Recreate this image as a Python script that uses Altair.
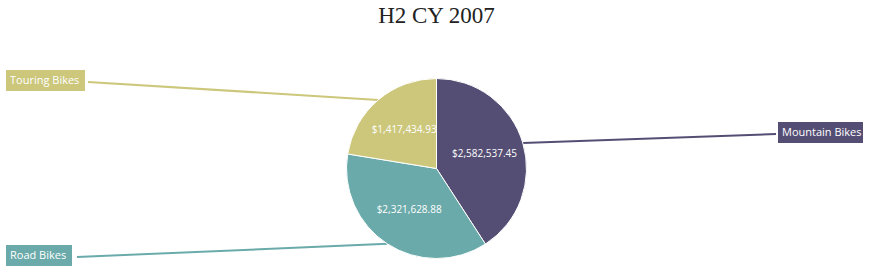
import altair as alt
import pandas as pd

# ---- data ----
categories = ["Mountain Bikes", "Road Bikes", "Touring Bikes"]
sales = [2582537.45, 2321628.88, 1417434.93]
colors = ["#554E74", "#6AAAAA", "#CCC77B"]
title_text = "H2 CY 2007"

# ---- layout (pixels) ----
CX, CY, R = 436.5, 168.5, 90
LABEL_RADIUS = 50
box_x0 = [778, 6, 6]
box_x1 = [863, 72, 85]
box_y0 = [122, 245, 70]
box_y1 = [143, 266, 91]
line_x = [776, 77, 88]
line_y = [134, 257, 82]

df = pd.DataFrame({"category": categories, "sales": sales, "idx": list(range(len(categories)))})
df["bx0"] = box_x0
df["bx1"] = box_x1
df["by0"] = box_y0
df["by1"] = box_y1
df["bym"] = [(a + b) / 2 for a, b in zip(box_y0, box_y1)]
df["lx"] = line_x
df["ly"] = line_y

color = alt.Color("category:N", scale=alt.Scale(domain=categories, range=colors), legend=None)
theta = alt.Theta("sales:Q", stack=True)
order = alt.Order("idx:Q")

base = alt.Chart(df)

lines = (
    base.transform_joinaggregate(total="sum(sales)")
    .transform_window(cum="sum(sales)", sort=[alt.SortField("idx")], frame=[None, 0])
    .transform_calculate(
        mid="(datum.cum - datum.sales/2) / datum.total * 2 * PI",
        ex=f"{CX} + {R} * sin(datum.mid)",
        ey=f"{CY} - {R} * cos(datum.mid)",
    )
    .mark_rule(strokeWidth=2)
    .encode(
        x=alt.X("ex:Q", scale=None, axis=None),
        y=alt.Y("ey:Q", scale=None, axis=None),
        x2="lx:Q",
        y2="ly:Q",
        color=color,
    )
)

pie = base.mark_arc(radius=R, stroke="white", strokeWidth=1).encode(
    theta=theta, order=order, color=color, x=alt.value(CX), y=alt.value(CY)
)

vals = base.mark_text(
    radius=LABEL_RADIUS, font="Open Sans", fontSize=10, color="white", baseline="middle"
).encode(
    theta=theta,
    order=order,
    text=alt.Text("sales:Q", format="$,.2f"),
    x=alt.value(CX),
    y=alt.value(CY),
)

boxes = base.mark_rect().encode(
    x=alt.X("bx0:Q", scale=None, axis=None),
    x2="bx1:Q",
    y=alt.Y("by0:Q", scale=None, axis=None),
    y2="by1:Q",
    color=color,
)

box_text = base.mark_text(
    align="left", baseline="middle", color="white", font="Open Sans", fontSize=11, dx=4
).encode(
    x=alt.X("bx0:Q", scale=None, axis=None),
    y=alt.Y("bym:Q", scale=None, axis=None),
    text="category:N",
)

title = alt.Chart(pd.DataFrame({"t": [title_text]})).mark_text(
    font="Liberation Serif", fontSize=23, color="#222222", baseline="alphabetic", align="center"
).encode(text="t:N", x=alt.value(CX), y=alt.value(23))

chart = (
    alt.layer(lines, pie, vals, boxes, box_text, title)
    .properties(width=873, height=273, padding=0, autosize="none", background="white")
    .configure_view(stroke=None)
)

chart.save("out.html", embed_options={"renderer": "svg", "actions": False})
